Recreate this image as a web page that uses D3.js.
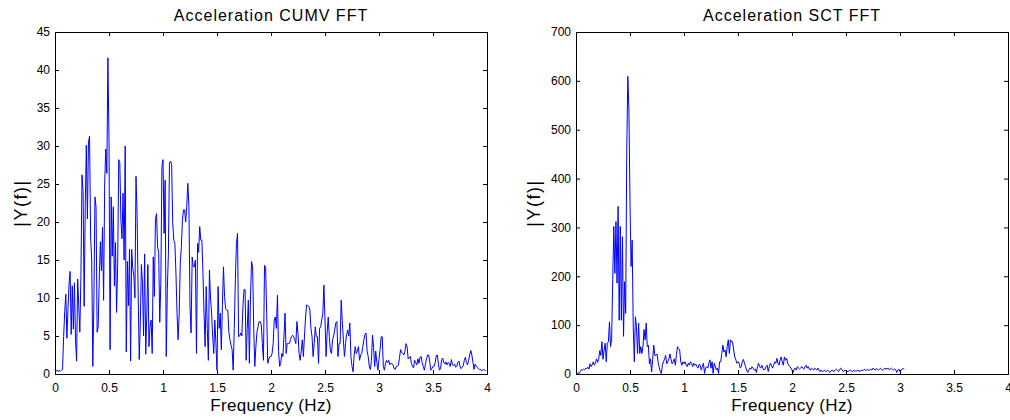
<!DOCTYPE html>
<html lang="en">
<head>
  <meta charset="UTF-8">
  <title>Acceleration FFT</title>
  <script src="https://d3js.org/d3.v7.min.js"></script>
  <style>
    body { margin: 0; background: #fff; font-family: Arial, "Liberation Sans", sans-serif; }
    .tick text { font-size: 12px; fill: #000; font-family: Arial, "Liberation Sans", sans-serif; }
    .tick line { stroke: #000; }
    .title { font-size: 16px; letter-spacing: 1px; }
    .xlabel { font-size: 17px; letter-spacing: 0.3px; }
    .ylabel { font-size: 18px; letter-spacing: 1.5px; }
  </style>
</head>
<body>
<svg id="chart" width="1010" height="420"></svg>
<script>
// frequency spacing of the samples (Hz)
const step = 0.01;

// |Y(f)| of CUMV acceleration, 0.00 .. 3.99 Hz
const cumvValues = [
  0.6,0.4,0.5,0.3,0.5,0.4,0.5,0.6,4.9,8.2,
  10.5,4.7,8.5,11.8,13.5,5.2,11.6,5.9,12,4.5,
  1.7,12.5,9,5.5,12.8,26.2,24,8.9,22,30.1,
  20.4,30.5,31.3,18,15,1,9.5,23.3,22,5.5,
  6.2,12.5,17.4,13.6,19.3,9.7,25,29.6,26.4,41.6,
  30.8,3.2,23.3,15.5,22,11.6,17.3,8.1,14,28.2,
  27.8,20.4,17.8,23.8,15,30,2.9,14.8,9,16.4,
  1.7,16.4,13.9,13,10,26,20.9,10.6,1.9,6.7,
  14.4,12,5,15.8,2.6,8,14.4,3.6,6.3,7.1,
  2.7,15.4,10.2,20.3,21.1,16.7,16,6.8,12,27.3,
  28.2,18.5,25.5,2.3,11.1,15.9,27.8,28,27.6,19.8,
  17.6,17.2,13.2,8,4.5,8,14.6,16.8,20.3,21.6,
  21.6,20,22,25.1,22,8.9,5.4,15.4,14.1,14.1,
  15,2.7,17.2,16,19.4,17.6,17.6,13.2,8,3.6,
  11.5,6,1.8,13.7,10,8,5,2.7,7.1,4,
  0.5,11.5,6,8,3.2,9,14.1,10.2,8.6,8.4,
  8.4,5.5,4.5,3.8,3.2,0.5,6,12.4,17.2,18.5,
  4.9,5,5.4,5,8.9,11.1,11.1,1.8,6,9.7,
  1.4,10,14.8,14.1,6,1,3.6,5.5,6.2,6.9,
  6.9,6.5,4,1.8,14.3,14,8,1.4,2,2.3,
  2.3,2.7,4,7.1,7.5,6,10.4,3,1,1.4,
  2.7,2.3,5,8,2.7,4,4,4,4.5,4.9,
  5.1,4.9,4.5,4,6.9,5.3,2.7,1.8,3,4.5,
  2.3,5,7.5,9.1,9,8.9,8.4,6,4.9,2.3,
  4,6.2,4.9,4.9,1.4,6,6.2,7.1,8,11.7,
  7.1,2.3,5.5,7.5,4.9,3,2.7,4.5,5,5.8,
  6.7,6.9,2.3,4,4,9.7,7,4.5,2.3,4,
  5.2,5.8,5,6.7,2.3,1,0.3,2.5,3.6,2.7,
  3,3.6,1.8,2.5,2.7,3.6,4.5,5.2,5.4,3,
  2.3,1,0.6,1.8,5.1,3.5,1,3,1.5,0.5,
  2,3.2,4.9,4.9,1,0.5,1.4,1.8,1.5,1.8,
  1.2,1.4,1.4,1.2,0.7,0.6,1,1,1.2,2.2,
  3.2,2.8,2.7,2.5,3,4,3.6,2,2.1,2.3,
  1.4,1,0.8,1.8,1.5,1.2,2,1.4,2.2,2.3,
  1.5,1,0.5,1.3,2,2.5,2.5,1.6,0.5,0.7,
  1,1,1.5,2.4,2.5,1.3,0.5,0.7,1.9,2.1,
  1.5,1.3,1.6,1.2,1.5,1.4,1,1.9,1.2,1.1,
  1.3,0.9,1,1.5,1.7,1,0.7,0.9,1.1,1.8,
  2.2,1.5,1.2,1.8,2.5,3.1,2.5,1.5,0.6,1.3,
  1,0.9,0.7,0.6,0.6,0.4,0.5,0.6,0.5,0.4
];

// |Y(f)| of SCT acceleration, 0.00 .. 3.04 Hz
const sctValues = [
  1,1,2,1,5,9,8,10,9,12,
  11,14,10,21,15,19,25,18,22,31,
  24,30,48,38,66,30,49,63,25,63,
  66,107,56,73,193,302,206,312,186,343,
  110,302,110,281,77,189,124,459,609,541,
  349,220,274,97,25,117,97,42,104,42,
  56,42,56,91,70,104,56,59,21,31,
  4,30,59,38,38,41,25,14,5,1,
  18,25,31,38,21,25,31,41,30,21,
  25,31,18,40,56,52,49,25,18,25,
  21,25,18,15,22,18,25,22,15,22,
  18,20,15,12,20,18,8,15,22,1,
  12,15,12,22,29,12,25,1,22,15,
  8,12,1,25,25,42,59,45,49,35,
  56,70,42,70,66,66,49,35,29,22,
  25,22,12,15,25,30,22,15,8,3,
  8,12,10,15,12,8,10,3,15,22,
  15,12,18,12,8,10,15,18,5,15,
  22,18,12,18,25,22,32,22,18,29,
  35,25,18,35,28,32,22,18,15,12,
  8,3,10,12,8,15,12,10,12,15,
  12,10,15,18,12,15,10,8,12,10,
  8,12,10,8,12,8,5,8,5,6,
  8,5,6,8,5,3,6,8,6,5,
  8,10,8,5,8,12,10,6,5,8,
  6,5,5,7,8,6,5,8,5,7,
  6,8,6,5,8,7,8,10,7,8,
  10,7,8,10,8,12,10,8,11,10,
  8,10,12,9,8,10,12,10,11,12,
  9,10,12,10,8,10,9,3,8,10,
  5,8,10,11,10
];

const xTicks = [0, 0.5, 1, 1.5, 2, 2.5, 3, 3.5, 4];
const cumvTicks = [0, 5, 10, 15, 20, 25, 30, 35, 40, 45];
const sctTicks = [0, 100, 200, 300, 400, 500, 600, 700];

const panels = [
  { title: 'Acceleration CUMV FFT', values: cumvValues, yMax: 45, yTicks: cumvTicks, left: 55, ylabelX: -28 },
  { title: 'Acceleration SCT FFT', values: sctValues, yMax: 700, yTicks: sctTicks, left: 576, ylabelX: -36 }
];

const svg = d3.select('#chart');
const plotTop = 32, plotH = 342, plotW = 432, tickLen = 4;

panels.forEach(p => {
  const g = svg.append('g').attr('transform', `translate(${p.left},${plotTop})`);
  const x = d3.scaleLinear().domain([0, 4]).range([0, plotW]);
  const y = d3.scaleLinear().domain([0, p.yMax]).range([plotH, 0]);
  const fmt = d => String(d);

  // line first, box and ticks over it
  const line = d3.line()
    .x((d, i) => x(i * step))
    .y(d => y(d));

  g.append('path')
    .datum(p.values)
    .attr('fill', 'none')
    .attr('stroke', '#0000ff')
    .attr('stroke-width', 1)
    .attr('d', line);

  g.append('g')
    .attr('transform', `translate(0,${plotH})`)
    .call(d3.axisBottom(x).tickValues(xTicks).tickFormat(fmt).tickSize(-tickLen).tickPadding(9))
    .call(a => a.select('.domain').remove());

  g.append('g')
    .call(d3.axisTop(x).tickValues(xTicks).tickFormat('').tickSize(-tickLen))
    .call(a => a.select('.domain').remove());

  g.append('g')
    .call(d3.axisLeft(y).tickValues(p.yTicks).tickFormat(fmt).tickSize(-tickLen).tickPadding(5))
    .call(a => a.select('.domain').remove());

  g.append('g')
    .attr('transform', `translate(${plotW},0)`)
    .call(d3.axisRight(y).tickValues(p.yTicks).tickFormat('').tickSize(-tickLen))
    .call(a => a.select('.domain').remove());

  g.append('rect')
    .attr('width', plotW).attr('height', plotH)
    .attr('fill', 'none').attr('stroke', '#000').attr('stroke-width', 1)
    .attr('shape-rendering', 'crispEdges');

  g.append('text')
    .attr('class', 'title')
    .attr('x', plotW / 2).attr('y', -11)
    .attr('text-anchor', 'middle')
    .text(p.title);

  g.append('text')
    .attr('class', 'xlabel')
    .attr('x', plotW / 2).attr('y', plotH + 37)
    .attr('text-anchor', 'middle')
    .text('Frequency (Hz)');

  g.append('text')
    .attr('class', 'ylabel')
    .attr('transform', `translate(${p.ylabelX},${plotH / 2}) rotate(-90)`)
    .attr('text-anchor', 'middle')
    .text('|Y(f)|');
});
</script>
</body>
</html>
